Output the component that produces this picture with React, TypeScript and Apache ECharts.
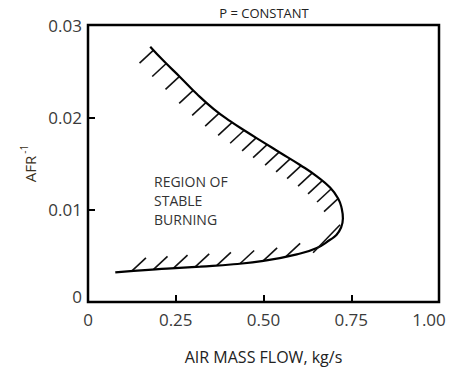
import React, { useEffect, useRef } from "react";
import * as echarts from "echarts";

// Stability loop boundary: [air mass flow kg/s, AFR^-1]
const curvePoints: number[][] = [
  [0.1773, 0.02765],
  [0.2152, 0.02612],
  [0.2627, 0.02435],
  [0.3103, 0.02252],
  [0.3575, 0.02092],
  [0.4051, 0.01958],
  [0.4526, 0.01841],
  [0.4999, 0.01729],
  [0.5474, 0.01617],
  [0.6043, 0.01484],
  [0.6519, 0.01361],
  [0.6897, 0.01239],
  [0.7133, 0.01116],
  [0.723, 0.0101],
  [0.7262, 0.00903],
  [0.721, 0.00807],
  [0.7068, 0.00722],
  [0.6897, 0.00674],
  [0.6519, 0.00586],
  [0.5949, 0.00516],
  [0.4999, 0.00445],
  [0.4145, 0.00409],
  [0.3197, 0.00384],
  [0.2249, 0.00362],
  [0.1298, 0.00338],
  [0.0777, 0.0032],
];

// Hatch anchors on the upper (rich) boundary
const upperHatch: number[][] = [
  [0.1867, 0.02727],
  [0.2229, 0.02583],
  [0.2607, 0.02443],
  [0.2997, 0.02292],
  [0.3367, 0.02162],
  [0.3737, 0.02046],
  [0.4107, 0.01945],
  [0.4449, 0.0186],
  [0.479, 0.01778],
  [0.5103, 0.01705],
  [0.5445, 0.01624],
  [0.5758, 0.0155],
  [0.6071, 0.01477],
  [0.6384, 0.01396],
  [0.6668, 0.01312],
  [0.6925, 0.01224],
  [0.7124, 0.0112],
];

// Hatch anchors on the lower (weak) boundary
const lowerHatch: number[][] = [
  [0.1252, 0.00337],
  [0.1867, 0.00353],
  [0.2437, 0.00367],
  [0.3054, 0.00381],
  [0.3672, 0.00397],
  [0.4335, 0.00417],
  [0.499, 0.00445],
  [0.5645, 0.00494],
];

// Chord hatch near the nose of the loop
const chordHatch: number[][] = [
  [0.6413, 0.00533],
  [0.7182, 0.00836],
];

const xTicks = [0, 0.25, 0.5, 0.75, 1.0];
const yTicks = [0, 0.01, 0.02, 0.03];

const titleText = "P = CONSTANT";
const regionText = "REGION OF\nSTABLE\nBURNING";
const xName = "AIR MASS FLOW, kg/s";

const FONT = "'Open Sans', 'Noto Sans', sans-serif";
const LABEL_COLOR = "#3a3a3a";

export default function App() {
  const ref = useRef<HTMLDivElement>(null);

  useEffect(() => {
    document.body.style.margin = "0";
    if (!ref.current) return;
    const chart = echarts.init(ref.current, null, { renderer: "svg" });

    const hatchSeries = (data: number[][], dx: number, dy: number) => ({
      type: "custom",
      silent: true,
      data,
      renderItem: (params: any, api: any) => {
        const p = api.coord([api.value(0), api.value(1)]);
        return {
          type: "line",
          shape: { x1: p[0], y1: p[1], x2: p[0] + dx, y2: p[1] + dy },
          style: { stroke: "#111", lineWidth: 1.6 },
        };
      },
    });

    chart.setOption({
      animation: false,
      backgroundColor: "#fff",
      textStyle: { fontFamily: FONT },
      grid: {
        left: 88,
        right: 11,
        top: 25,
        bottom: 63,
        show: true,
        borderColor: "#000",
        borderWidth: 2.5,
        backgroundColor: "transparent",
      },
      xAxis: {
        type: "value",
        min: xTicks[0],
        max: xTicks[xTicks.length - 1],
        interval: 0.25,
        splitLine: { show: false },
        axisLine: { show: false },
        axisTick: {
          show: true,
          inside: true,
          length: 7,
          lineStyle: { color: "#000", width: 2 },
        },
        axisLabel: {
          margin: 9,
          fontSize: 17,
          color: LABEL_COLOR,
          fontFamily: FONT,
          formatter: (v: number) =>
            v === 0 ? "0" : v >= 1 ? "{m|" + v.toFixed(2) + "}" : v.toFixed(2),
          rich: {
            m: { fontSize: 17, color: LABEL_COLOR, fontFamily: FONT, padding: [0, 20, 0, 0] },
          },
        },
        name: xName,
        nameLocation: "middle",
        nameGap: 47,
        nameTextStyle: { fontSize: 16, color: "#222", fontFamily: FONT },
      },
      yAxis: {
        type: "value",
        min: yTicks[0],
        max: yTicks[yTicks.length - 1],
        interval: 0.01,
        splitLine: { show: false },
        axisLine: { show: false },
        axisTick: {
          show: true,
          inside: true,
          length: 7,
          lineStyle: { color: "#000", width: 2 },
        },
        axisLabel: {
          margin: 6,
          fontSize: 17,
          color: LABEL_COLOR,
          fontFamily: FONT,
          formatter: (v: number) => (v === 0 ? "{z|0}" : v.toFixed(2)),
          rich: {
            z: { fontSize: 17, color: LABEL_COLOR, fontFamily: FONT, padding: [0, 0, 12, 0] },
          },
        },
        name: "{a|AFR}{s|-1}",
        nameLocation: "middle",
        nameRotate: 90,
        nameGap: 42,
        nameTextStyle: {
          rich: {
            a: { fontSize: 15, color: "#3a3020", fontFamily: FONT, verticalAlign: "bottom" },
            s: { fontSize: 10, color: "#3a3020", fontFamily: FONT, verticalAlign: "top", padding: [0, 0, 8, 2] },
          },
        },
      },
      graphic: [
        {
          type: "text",
          x: 264,
          y: 13,
          style: {
            text: titleText,
            fontSize: 13,
            fontFamily: FONT,
            fill: "#222",
            align: "center",
            verticalAlign: "middle",
          },
        },
        {
          type: "text",
          x: 154,
          y: 172,
          style: {
            text: regionText,
            fontSize: 14,
            lineHeight: 19,
            fontFamily: FONT,
            fill: "#333",
            align: "left",
            verticalAlign: "top",
          },
        },
      ],
      series: [
        {
          type: "line",
          data: curvePoints,
          smooth: 0.5,
          symbol: "none",
          lineStyle: { color: "#000", width: 2.2 },
          silent: true,
        },
        hatchSeries(upperHatch, -14, 13),
        hatchSeries(lowerHatch, 14, -13),
        {
          type: "line",
          data: chordHatch,
          symbol: "none",
          lineStyle: { color: "#111", width: 1.6 },
          silent: true,
        },
      ],
    });

    return () => chart.dispose();
  }, []);

  return <div ref={ref} style={{ width: 450, height: 370 }} />;
}
